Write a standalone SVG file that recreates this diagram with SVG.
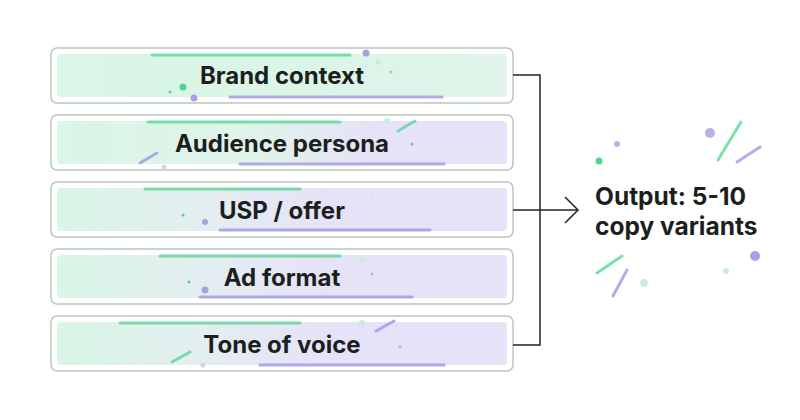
<svg xmlns="http://www.w3.org/2000/svg" width="800" height="420" viewBox="0 0 800 420">
<defs>
<linearGradient id="g1" x1="0" x2="1" y1="0" y2="0"><stop offset="0" stop-color="#d9f6e6"/><stop offset="0.75" stop-color="#dcf5e8"/><stop offset="1" stop-color="#e2f5ec"/></linearGradient>
<linearGradient id="g2" x1="0" x2="1"><stop offset="0" stop-color="#d9f6e6"/><stop offset="0.45" stop-color="#e0f3ea"/><stop offset="0.7" stop-color="#e6e2f7"/><stop offset="1" stop-color="#e6e2f7"/></linearGradient>
<linearGradient id="g3" x1="0" x2="1"><stop offset="0" stop-color="#d9f6e6"/><stop offset="0.3" stop-color="#e3eff0"/><stop offset="0.6" stop-color="#e6e2f7"/><stop offset="1" stop-color="#e6e2f7"/></linearGradient>
<style>
.o{fill:#fff;stroke:#b9c6c0;stroke-width:1.5}
.t{font-family:Inter,"Liberation Sans",sans-serif;font-weight:700;fill:#1c1f1e;text-anchor:middle;font-size:24px}
.gl{stroke:#4fd68f;stroke-opacity:0.75;stroke-width:3;stroke-linecap:round}
.pl{stroke:#9b8fe0;stroke-opacity:0.75;stroke-width:3;stroke-linecap:round}
.c{fill:none;stroke:#222;stroke-width:1.5}
</style>
</defs>
<rect width="800" height="420" fill="#fff"/>
<g id="n1"><rect class="o" x="51" y="48" width="462" height="55" rx="6"/><rect x="57" y="54" width="450" height="43" rx="4" fill="url(#g1)"/>
<line class="gl" x1="152" y1="55" x2="350" y2="55"/><line class="pl" x1="230" y1="97" x2="442" y2="97"/>
<circle cx="183" cy="87" r="3.5" fill="#4fd68f"/><circle cx="194" cy="98" r="3.5" fill="#a99fe3"/><circle cx="366" cy="53" r="3.5" fill="#a99fe3"/><circle cx="378" cy="62" r="2.5" fill="#c7eedc"/><circle cx="170" cy="92" r="1.5" fill="#4fd68f"/><circle cx="391" cy="72" r="1.5" fill="#b9b1e8"/>
<text class="t" x="282" y="84">Brand context</text></g>
<g id="n2"><rect class="o" x="51" y="115" width="462" height="55" rx="6"/><rect x="57" y="121" width="450" height="43" rx="4" fill="url(#g2)"/>
<line class="gl" x1="148" y1="122" x2="340" y2="122"/><line class="pl" x1="240" y1="164" x2="444" y2="164"/>
<line class="gl" x1="398" y1="131" x2="415" y2="121"/><line class="pl" x1="140" y1="163" x2="157" y2="153"/>
<circle cx="387" cy="121" r="3" fill="#c7eedc"/><circle cx="412" cy="144" r="1.5" fill="#4fd68f"/><circle cx="164" cy="167" r="2.5" fill="#d8d4f0"/>
<text class="t" x="282" y="152">Audience persona</text></g>
<g id="n3"><rect class="o" x="51" y="182" width="462" height="55" rx="6"/><rect x="57" y="188" width="450" height="43" rx="4" fill="url(#g3)"/>
<line class="gl" x1="145" y1="189" x2="300" y2="189"/><line class="pl" x1="220" y1="230" x2="430" y2="230"/>
<circle cx="205" cy="222" r="3" fill="#a99fe3"/><circle cx="183" cy="215" r="1.5" fill="#4fd68f"/><circle cx="372" cy="195" r="2" fill="#c7eedc"/>
<text class="t" x="282" y="219">USP / offer</text></g>
<g id="n4"><rect class="o" x="51" y="249" width="462" height="55" rx="6"/><rect x="57" y="255" width="450" height="43" rx="4" fill="url(#g3)"/>
<line class="gl" x1="160" y1="256" x2="340" y2="256"/><line class="pl" x1="200" y1="297" x2="412" y2="297"/>
<circle cx="205" cy="290" r="3.5" fill="#a99fe3"/><circle cx="362" cy="260" r="3" fill="#c7eedc"/><circle cx="372" cy="274" r="1.5" fill="#b9b1e8"/><circle cx="189" cy="282" r="1.5" fill="#4fd68f"/>
<text class="t" x="282" y="286">Ad format</text></g>
<g id="n5"><rect class="o" x="51" y="316" width="462" height="55" rx="6"/><rect x="57" y="322" width="450" height="43" rx="4" fill="url(#g3)"/>
<line class="gl" x1="120" y1="323" x2="300" y2="323"/><line class="pl" x1="260" y1="365" x2="444" y2="365"/>
<line class="gl" x1="172" y1="362" x2="190" y2="352"/><line class="pl" x1="376" y1="331" x2="394" y2="321"/>
<circle cx="362" cy="323" r="3" fill="#c7eedc"/><circle cx="203" cy="365" r="2.5" fill="#d8d4f0"/><circle cx="400" cy="347" r="1.5" fill="#b9b1e8"/>
<text class="t" x="282" y="353">Tone of voice</text></g>
<g id="connectors">
<path class="c" d="M513 75 H540 V345 H513"/>
<path class="c" d="M513 210 H577"/>
<path class="c" d="M565 197 L578 210 L565 223"/>
</g>
<g id="output">
<line class="gl" x1="718" y1="160" x2="741" y2="122"/><line class="pl" x1="737" y1="162" x2="760" y2="147"/>
<line class="gl" x1="597" y1="273" x2="622" y2="256"/><line class="pl" x1="613" y1="296" x2="627" y2="270"/>
<circle cx="710" cy="133" r="5" fill="#b9b1e8"/><circle cx="617" cy="144" r="3" fill="#b9b1e8"/><circle cx="599" cy="161" r="3.5" fill="#4fd68f"/><circle cx="644" cy="283" r="4" fill="#c7eedc"/><circle cx="755" cy="256" r="5" fill="#a99fe3"/><circle cx="726" cy="271" r="3" fill="#c7eedc"/>
<text x="595" y="205" font-family="Inter,'Liberation Sans',sans-serif" font-weight="700" font-size="24.5" fill="#1c1f1e">Output: 5-10</text>
<text x="595" y="235" font-family="Inter,'Liberation Sans',sans-serif" font-weight="700" font-size="24.5" fill="#1c1f1e">copy variants</text>
</g>
</svg>
